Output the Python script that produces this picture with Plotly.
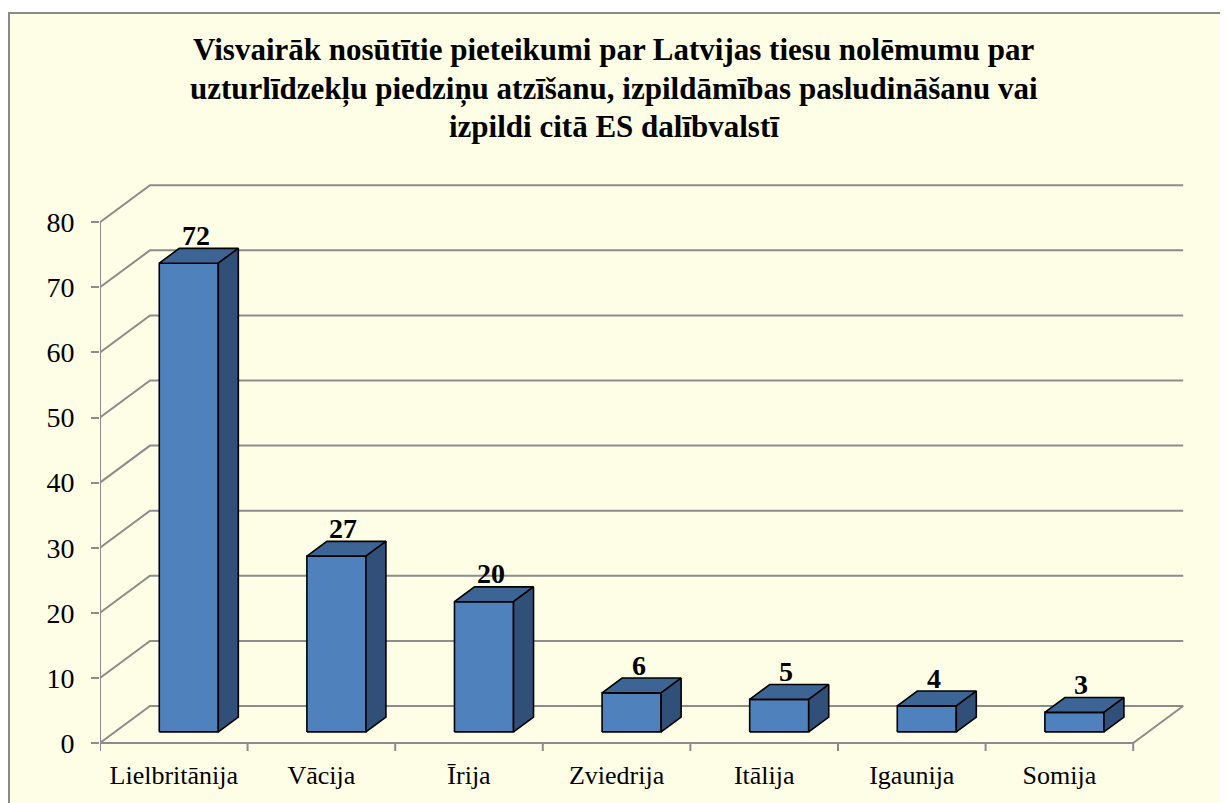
import plotly.graph_objects as go

# ---- data ----
categories = ["Lielbritānija", "Vācija", "Īrija", "Zviedrija", "Itālija", "Igaunija", "Somija"]
values = [72, 27, 20, 6, 5, 4, 3]
y_ticks = [0, 10, 20, 30, 40, 50, 60, 70, 80]
title_lines = [
    "Visvairāk nosūtītie pieteikumi par Latvijas tiesu nolēmumu par",
    "uzturlīdzekļu piedziņu atzīšanu, izpildāmības pasludināšanu vai",
    "izpildi citā ES dalībvalstī",
]

# ---- geometry (pixel scale of the oblique 3D look) ----
W, H = 1228, 803
OFF = 8               # page body margin compensation
PX_X = 147.6          # px per category
PX_Y = 6.51           # px per value unit
left_px = 100 - OFF
zero_px = 743 - OFF
plot_top = 177 - OFF
plot_bottom = 753 - OFF
n = len(categories)
x_max = (W - 36 - 100) / PX_X
y_lo = -(plot_bottom - zero_px) / PX_Y
y_hi = (zero_px - plot_top) / PX_Y

DXW = 50 / PX_X       # wall depth in x units
DYW = 37 / PX_Y       # wall depth in y units
F0, F1 = 0.3, 0.7     # bar depth span (fraction of wall depth)
HW = 0.2              # half bar width (category units)
top_val = y_ticks[-1]

GRID = "#8C8C8C"
FONT = "Liberation Serif"

fig = go.Figure()

# walls / grid
gx, gy = [], []
for t in y_ticks:
    gx += [0, DXW, n + DXW, None]
    gy += [t, t + DYW, t + DYW, None]
gx += [0, 0, None, 0, n, n + DXW, None]
gy += [0, top_val, None, 0, 0, DYW, None]
for i in range(n + 1):
    gx += [i, i, None]
    gy += [0, -8 / PX_Y, None]
fig.add_trace(go.Scatter(x=gx, y=gy, mode="lines", line=dict(color=GRID, width=2),
                         hoverinfo="skip", showlegend=False))

FRONT = "#4F81BD"
TOP = "#3C6494"
SIDE = "#30507A"
EDGE = dict(color="black", width=1.6)

for i, v in enumerate(values):
    cx = i + 0.5
    xl, xr = cx - HW, cx + HW
    x0d, y0d = F0 * DXW, F0 * DYW
    x1d, y1d = F1 * DXW, F1 * DYW
    # front face
    fig.add_trace(go.Scatter(
        x=[xl + x0d, xr + x0d, xr + x0d, xl + x0d, xl + x0d],
        y=[y0d, y0d, v + y0d, v + y0d, y0d],
        fill="toself", fillcolor=FRONT, line=EDGE, mode="lines",
        hoverinfo="skip", showlegend=False))
    # top face
    fig.add_trace(go.Scatter(
        x=[xl + x0d, xr + x0d, xr + x1d, xl + x1d, xl + x0d],
        y=[v + y0d, v + y0d, v + y1d, v + y1d, v + y0d],
        fill="toself", fillcolor=TOP, line=EDGE, mode="lines",
        hoverinfo="skip", showlegend=False))
    # side face
    fig.add_trace(go.Scatter(
        x=[xr + x0d, xr + x1d, xr + x1d, xr + x0d, xr + x0d],
        y=[y0d, y1d, v + y1d, v + y0d, y0d],
        fill="toself", fillcolor=SIDE, line=EDGE, mode="lines",
        hoverinfo="skip", showlegend=False))
    # value label
    fig.add_annotation(x=cx + 0.5 * DXW - 0.02, y=v + F1 * DYW, text=f"<b>{v}</b>",
                       showarrow=False, yanchor="middle", yshift=13,
                       font=dict(family=FONT, size=28, color="black"))

# title lines
plot_h = plot_bottom - plot_top
plot_w = x_max * PX_X
for k, (line, cy) in enumerate(zip(title_lines, [50, 89, 127])):
    fig.add_annotation(xref="paper", yref="paper",
                       x=(614 - OFF - left_px) / plot_w, y=(plot_bottom - (cy - OFF)) / plot_h,
                       text=f"<b>{line}</b>", showarrow=False,
                       xanchor="center", yanchor="middle",
                       font=dict(family=FONT, size=31, color="black"))

# background panel with border
fig.add_shape(type="rect", xref="paper", yref="paper", layer="below",
              x0=(9 - OFF - left_px) / plot_w, x1=(1260 - left_px) / plot_w,
              y0=(plot_bottom - 840) / plot_h, y1=(plot_bottom - (13 - OFF)) / plot_h,
              fillcolor="#FEFEE6", line=dict(color="#8A8A8A", width=2))

fig.update_layout(
    width=W, height=H,
    margin=dict(l=left_px, r=W - left_px - plot_w, t=plot_top, b=H - plot_bottom),
    paper_bgcolor="white", plot_bgcolor="rgba(0,0,0,0)",
    showlegend=False,
    xaxis=dict(range=[0, x_max], showgrid=False, zeroline=False, showline=False,
               tickmode="array", tickvals=[i + 0.5 for i in range(n)], ticktext=categories,
               ticks="", ticklabelstandoff=4,
               tickfont=dict(family=FONT, size=26, color="black"), fixedrange=True),
    yaxis=dict(range=[y_lo, y_hi], showgrid=False, zeroline=False, showline=False,
               tickmode="array", tickvals=y_ticks, ticks="outside", ticklen=8,
               tickcolor=GRID, tickwidth=2, ticklabelstandoff=11,
               tickfont=dict(family=FONT, size=28, color="black"), fixedrange=True),
)

fig.write_html("out.html")
